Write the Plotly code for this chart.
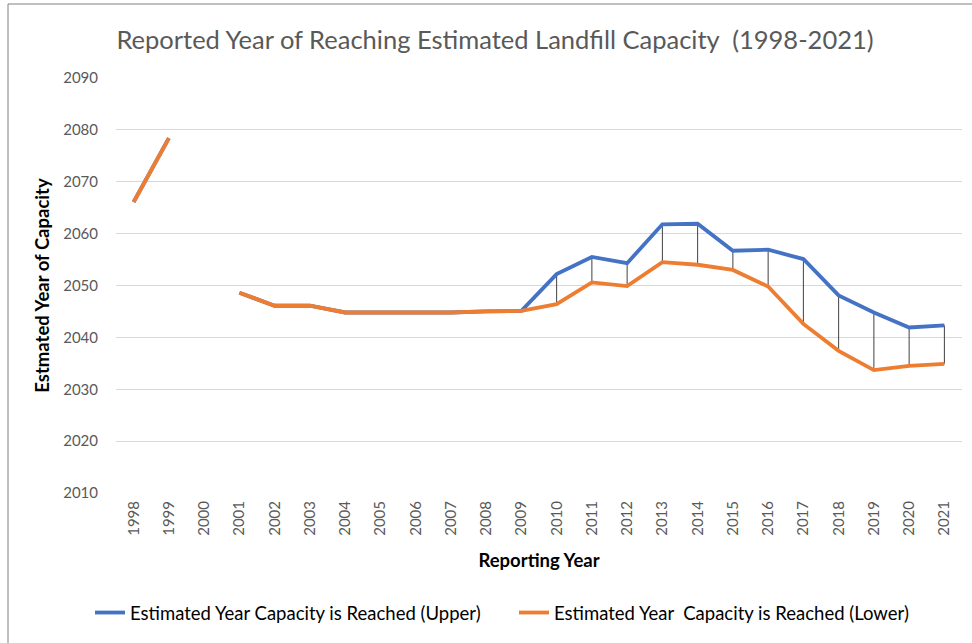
import plotly.graph_objects as go

years = [str(y) for y in range(1998, 2022)]
upper = [2066.1, 2078.4, None, 2048.6, 2046.1, 2046.1, 2044.8, 2044.8, 2044.8, 2044.8, 2045.0, 2045.1,
         2052.2, 2055.5, 2054.3, 2061.8, 2061.9, 2056.7, 2056.9, 2055.1, 2048.1, 2044.8, 2041.9, 2042.3]
lower = [2066.1, 2078.4, None, 2048.6, 2046.1, 2046.1, 2044.8, 2044.8, 2044.8, 2044.8, 2045.0, 2045.1,
         2046.4, 2050.6, 2049.9, 2054.5, 2054.0, 2053.0, 2049.8, 2042.6, 2037.4, 2033.7, 2034.5, 2034.9]
y_ticks = list(range(2010, 2091, 10))

FONT = "Lato"
GRAY = "#595959"

# high-low connector lines built from the data
hx, hy = [], []
for yr, u, l in zip(years, upper, lower):
    if u is None or l is None:
        continue
    hx += [yr, yr, None]
    hy += [u, l, None]

fig = go.Figure()
fig.add_trace(go.Scatter(x=hx, y=hy, mode="lines", line=dict(color="#404040", width=1),
                         showlegend=False, hoverinfo="skip"))
fig.add_trace(go.Scatter(x=years, y=upper, mode="lines", name="Estimated Year Capacity is Reached (Upper)",
                         line=dict(color="#4472C4", width=3.8), connectgaps=False))
fig.add_trace(go.Scatter(x=years, y=lower, mode="lines", name="Estimated Year  Capacity is Reached (Lower)",
                         line=dict(color="#ED7D31", width=3.8), connectgaps=False))

fig.update_layout(
    width=972, height=643,
    margin=dict(l=116, r=10, t=78, b=150),
    paper_bgcolor="white", plot_bgcolor="white",
    font=dict(family=FONT, color=GRAY, size=15),
    title=dict(text="Reported Year of Reaching Estimated Landfill Capacity  (1998-2021)",
               x=(495 - 116) / 846, xref="paper", xanchor="center", y=1 - 40 / 643, yanchor="middle",
               font=dict(family=FONT, size=25.5, color=GRAY)),
    xaxis=dict(type="category", categoryorder="array", categoryarray=years,
               range=[-0.5, 23.5], tickangle=-90, showgrid=False, showline=False,
               ticks="", tickfont=dict(size=15, color=GRAY), ticklabelstandoff=4,
               title=dict(text="<b>Reporting Year</b>", font=dict(size=18.5, color="black"), standoff=19)),
    yaxis=dict(range=[2010, 2090], tickvals=y_ticks, showgrid=True, gridcolor="#D9D9D9", gridwidth=1,
               zeroline=False, showline=False, ticks="", tickfont=dict(size=15, color=GRAY),
               ticklabelstandoff=17,
               title=dict(text="<b>Estmated Year of Capacity</b>", font=dict(size=18.5, color="black"), standoff=8)),
    legend=dict(orientation="h", x=(90 - 116) / 846, xanchor="left", y=-(613 - 493) / 415, yanchor="middle",
                font=dict(size=18.5, color="black"), traceorder="normal",
                entrywidth=379, entrywidthmode="pixels"),
    shapes=[dict(type="rect", xref="paper", yref="paper",
                 x0=(8 - 116) / 846, x1=1.1, y0=-0.5, y1=1 + (78 - 4) / 415,
                 line=dict(color="#808080", width=1), fillcolor="rgba(0,0,0,0)", layer="below")],
)

fig.write_html("out.html", config={"displayModeBar": False},
               post_script="document.body.style.margin='0';")
